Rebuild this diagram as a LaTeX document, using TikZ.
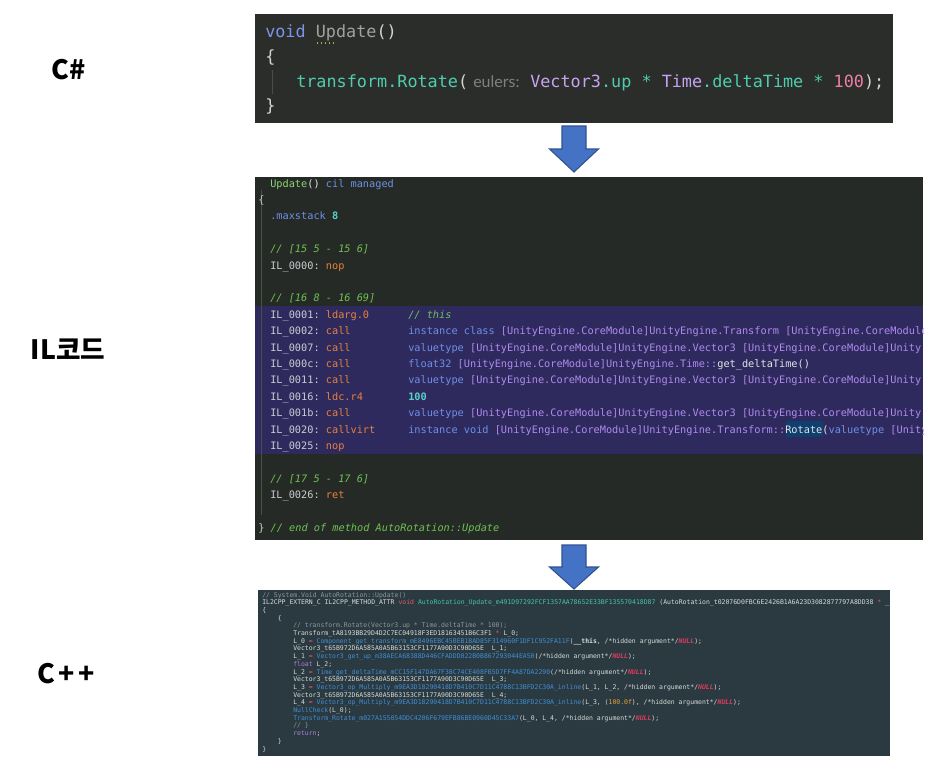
\documentclass[tikz,border=0pt]{standalone}
\usepackage{fontspec}
\setmonofont{DejaVu Sans Mono}
\newfontfamily\labelfont{Noto Sans CJK KR}
\newfontfamily\hintfont{Lato}
\usepackage{xcolor}
\usetikzlibrary{calc}

% backgrounds
\definecolor{csbg}{HTML}{2A2D2A}
\definecolor{ilbg}{HTML}{262A26}
\definecolor{ilsel}{HTML}{2E2A5E}
\definecolor{rotsel}{HTML}{0E3F6E}
\definecolor{cppbg}{HTML}{2B3A40}
\definecolor{guide}{HTML}{4A4E4A}
% C#
\definecolor{cstext}{HTML}{D2D4D2}
\definecolor{csvoid}{HTML}{7E93E5}
\definecolor{csid}{HTML}{9EA39E}
\definecolor{csteal}{HTML}{4FCDAF}
\definecolor{cspurple}{HTML}{C9A2F2}
\definecolor{cspink}{HTML}{F07CA8}
\definecolor{cshint}{HTML}{7E827E}
\definecolor{csdots}{HTML}{A8B040}
% IL
\definecolor{illabel}{HTML}{C9CDD2}
\definecolor{ilkwc}{HTML}{6F8FE8}
\definecolor{iltypec}{HTML}{B08AEE}
\definecolor{ilcomc}{HTML}{6CC254}
\definecolor{ilopc}{HTML}{E8813C}
\definecolor{ilnumc}{HTML}{56D3C8}
\definecolor{ilfunc}{HTML}{8ED56F}
\definecolor{ilwhite}{HTML}{E2E4E6}
% C++
\definecolor{cpptext}{HTML}{D5DBDB}
\definecolor{cppcomc}{HTML}{8D989C}
\definecolor{cppredc}{HTML}{E4566E}
\definecolor{cpptealc}{HTML}{44C4A6}
\definecolor{cppbluec}{HTML}{3F8ED8}
\definecolor{cppnullc}{HTML}{E23A5E}
\definecolor{cppnumc}{HTML}{E8A33A}
\definecolor{cppvioc}{HTML}{B07CD8}
% arrows
\definecolor{arrowblue}{HTML}{4472C4}
\definecolor{arrowedge}{HTML}{2F528F}

\newcommand{\ilkw}[1]{\textcolor{ilkwc}{#1}}
\newcommand{\iltype}[1]{\textcolor{iltypec}{#1}}
\newcommand{\ilcom}[1]{\textcolor{ilcomc}{\itshape #1}}
\newcommand{\ilop}[1]{\textcolor{ilopc}{#1}}
\newcommand{\cppcom}[1]{\textcolor{cppcomc}{#1}}
\newcommand{\cppred}[1]{\textcolor{cppredc}{#1}}
\newcommand{\cppfn}[1]{\textcolor{cppbluec}{#1}}
\newcommand{\hidarg}{/*hidden argument*/\textcolor{cppnullc}{\bfseries\itshape NULL}}

\tikzset{
  csline/.style={anchor=base west, inner sep=0pt, text=cstext,
    font=\ttfamily\fontsize{12.6}{15}\selectfont},
  hint/.style={anchor=base west, inner sep=0pt, text=cshint,
    font=\hintfont\fontsize{12}{14}\selectfont},
  illine/.style={anchor=base west, inner sep=0pt, text=illabel,
    font=\ttfamily\fontsize{7.7}{9}\selectfont},
  cppline/.style={anchor=base west, inner sep=0pt, text=cpptext,
    font=\ttfamily\fontsize{4.85}{6}\selectfont},
  lang/.style={font=\labelfont\bfseries\fontsize{20}{24}\selectfont},
  blockarrow/.style={fill=arrowblue, draw=arrowedge, line width=0.8pt},
}

\begin{document}
\begin{tikzpicture}[x=0.75pt,y=-0.75pt]
\useasboundingbox (0,0) rectangle (939,761);

% language labels
\node[lang] (lcs) at (69,70) {C\#};
\node[lang] (lil) at (68,349) {IL코드};
\node[lang] (lcpp) at (66,674) {C\kern2.5pt+\kern2.5pt+};

% code panels
\fill[csbg] (255,14) coordinate (csnw) rectangle (893,123) coordinate (csse);
\fill[ilbg] (255,177) coordinate (ilnw) rectangle (923,540) coordinate (ilse);
\fill[ilsel] (255,306) rectangle (923,454);
\fill[rotsel] (786,421) rectangle (823,437);
\fill[cppbg] (258,590) coordinate (cppnw) rectangle (890,756) coordinate (cppse);

% block arrows between the panels
\coordinate (a1) at (574,126);
\coordinate (a2) at (574,545);
\draw[blockarrow] (a1) ++(-12,0) -- ++(24,0) -- ++(0,23) -- ++(12.5,0)
  -- ++(-24.5,23) -- ++(-24.5,-23) -- ++(12.5,0) -- cycle;
\draw[blockarrow] (a2) ++(-12,0) -- ++(24,0) -- ++(0,22) -- ++(12.5,0)
  -- ++(-24.5,22) -- ++(-24.5,-22) -- ++(12.5,0) -- cycle;

% C#
\draw[guide, thin] (272,70) -- (272,94);
\draw[csdots, dotted, line width=1pt] (317,43) -- (336,43);
\node[csline] (cs1) at (265,37) {\textcolor{csvoid}{void} \textcolor{csid}{Update}()};
\node[csline] (cs2) at (265,62) {\{};
\node[csline] (cs3) at (296,87.5) {\textcolor{csteal}{transform.Rotate}(};
\node[hint] (cs3h) at (473,87.5) {eulers:};
\node[csline] (cs3b) at (530,87.5) {\textcolor{cspurple}{Vector3}\textcolor{csteal}{.up * }\textcolor{cspurple}{Time}\textcolor{csteal}{.deltaTime * }\textcolor{cspink}{100});};
\node[csline] (cs4) at (265,111) {\}};

% IL
\begin{scope}
\clip (ilnw) rectangle (ilse);
\draw[guide, thin] (261,190) -- (261,515);
\node[illine] (il0) at (270,187) {\textcolor{ilfunc}{Update}\textcolor{ilwhite}{()} \ilkw{cil managed}};
\node[illine] (il1) at (258,203.4) {\{};
\node[illine] (il2) at (270,219.8) {\ilkw{.maxstack} \textcolor{ilnumc}{\bfseries 8}};
\node[illine] (il4) at (270,252.6) {\ilcom{// [15 5 - 15 6]}};
\node[illine] (il5) at (270,269) {IL\_0000: \ilop{nop}};
\node[illine] (il7) at (270,301.8) {\ilcom{// [16 8 - 16 69]}};
\node[illine] (il8) at (270,318.2) {IL\_0001: \ilop{ldarg.0}};
\node[illine] (il8o) at (408,318.2) {\ilcom{// this}};
\node[illine] (il9) at (270,334.6) {IL\_0002: \ilop{call}};
\node[illine] (il9o) at (408,334.6) {\ilkw{instance class} \iltype{[UnityEngine.CoreModule]UnityEngine.Transform [UnityEngine.CoreModule]}};
\node[illine] (il10) at (270,351) {IL\_0007: \ilop{call}};
\node[illine] (il10o) at (408,351) {\ilkw{valuetype} \iltype{[UnityEngine.CoreModule]UnityEngine.Vector3 [UnityEngine.CoreModule]Unity}};
\node[illine] (il11) at (270,367.4) {IL\_000c: \ilop{call}};
\node[illine] (il11o) at (408,367.4) {\ilkw{float32} \iltype{[UnityEngine.CoreModule]UnityEngine.Time::}\textcolor{ilwhite}{get\_deltaTime()}};
\node[illine] (il12) at (270,383.8) {IL\_0011: \ilop{call}};
\node[illine] (il12o) at (408,383.8) {\ilkw{valuetype} \iltype{[UnityEngine.CoreModule]UnityEngine.Vector3 [UnityEngine.CoreModule]Unity}};
\node[illine] (il13) at (270,400.2) {IL\_0016: \ilop{ldc.r4}};
\node[illine] (il13o) at (408,400.2) {\textcolor{ilnumc}{\bfseries 100}};
\node[illine] (il14) at (270,416.6) {IL\_001b: \ilop{call}};
\node[illine] (il14o) at (408,416.6) {\ilkw{valuetype} \iltype{[UnityEngine.CoreModule]UnityEngine.Vector3 [UnityEngine.CoreModule]Unity}};
\node[illine] (il15) at (270,433) {IL\_0020: \ilop{callvirt}};
\node[illine] (il15o) at (408,433) {\ilkw{instance void} \iltype{[UnityEngine.CoreModule]UnityEngine.Transform::}\textcolor{ilwhite}{Rotate(}\ilkw{valuetype} \iltype{[Unity}};
\node[illine] (il16) at (270,449.4) {IL\_0025: \ilop{nop}};
\node[illine] (il18) at (270,482.2) {\ilcom{// [17 5 - 17 6]}};
\node[illine] (il19) at (270,498.6) {IL\_0026: \ilop{ret}};
\node[illine] (il21) at (258,531.4) {\} \ilcom{// end of method AutoRotation::Update}};
\end{scope}

% C++
\begin{scope}
\clip (cppnw) rectangle (cppse);
\node[cppline] (cp0) at (262,597) {\cppcom{// System.Void AutoRotation::Update()}};
\node[cppline] (cp1) at (262,604.7) {IL2CPP\_EXTERN\_C IL2CPP\_METHOD\_ATTR \cppred{void} \textcolor{cpptealc}{AutoRotation\_Update\_m491D97292FCF1357AA78652E33BF135570418D87} (AutoRotation\_t02076D0FBC6E2426B1A6A23D3082877797A8DD38 \cppred{*} \_\_};
\node[cppline] (cp2) at (262,612.4) {\{};
\node[cppline] (cp3) at (277.6,620.1) {\{};
\node[cppline] (cp4) at (293,627.8) {\cppcom{// transform.Rotate(Vector3.up * Time.deltaTime * 100);}};
\node[cppline] (cp5) at (293,635.5) {Transform\_tA8193BB29D4D2C7EC04918F3ED18163451B6C3F1 \cppred{*} L\_0;};
\node[cppline] (cp6) at (293,643.2) {L\_0 \cppred{=} \cppfn{Component\_get\_transform\_mE8496EBC45BEB1BAD85F314960F1DF1C952FA11F}({\bfseries\_\_this}, \hidarg);};
\node[cppline] (cp7) at (293,650.9) {Vector3\_t65B972D6A585A0A5B63153CF1177A90D3C90D65E~~L\_1;};
\node[cppline] (cp8) at (293,658.6) {L\_1 \cppred{=} \cppfn{Vector3\_get\_up\_m38AECA68388D446CFADDD022B0B867293044EA50}(\hidarg);};
\node[cppline] (cp9) at (293,666.3) {\textcolor{cppvioc}{float} L\_2;};
\node[cppline] (cp10) at (293,674) {L\_2 \cppred{=} \cppfn{Time\_get\_deltaTime\_mCC15F147DA67F38C74CE408FB5D7FF4A87DA2290}(\hidarg);};
\node[cppline] (cp11) at (293,681.7) {Vector3\_t65B972D6A585A0A5B63153CF1177A90D3C90D65E~~L\_3;};
\node[cppline] (cp12) at (293,689.4) {L\_3 \cppred{=} \cppfn{Vector3\_op\_Multiply\_m9EA3D18290418D7B410C7D11C4788C13BFD2C30A\_inline}(L\_1, L\_2, \hidarg);};
\node[cppline] (cp13) at (293,697.1) {Vector3\_t65B972D6A585A0A5B63153CF1177A90D3C90D65E~~L\_4;};
\node[cppline] (cp14) at (293,704.8) {L\_4 \cppred{=} \cppfn{Vector3\_op\_Multiply\_m9EA3D18290418D7B410C7D11C4788C13BFD2C30A\_inline}(L\_3, (\textcolor{cppnumc}{100.0f}), \hidarg);};
\node[cppline] (cp15) at (293,712.5) {\cppfn{NullCheck}(L\_0);};
\node[cppline] (cp16) at (293,720.2) {\cppfn{Transform\_Rotate\_m027A155054DDC4206F679EFB86BE0960D45C33A7}(L\_0, L\_4, \hidarg);};
\node[cppline] (cp17) at (293,727.9) {\cppcom{// \}}};
\node[cppline] (cp18) at (293,735.6) {\textcolor{cppvioc}{return};};
\node[cppline] (cp19) at (277.6,743.3) {\}};
\node[cppline] (cp20) at (262,751) {\}};
\end{scope}
\end{tikzpicture}
\end{document}
